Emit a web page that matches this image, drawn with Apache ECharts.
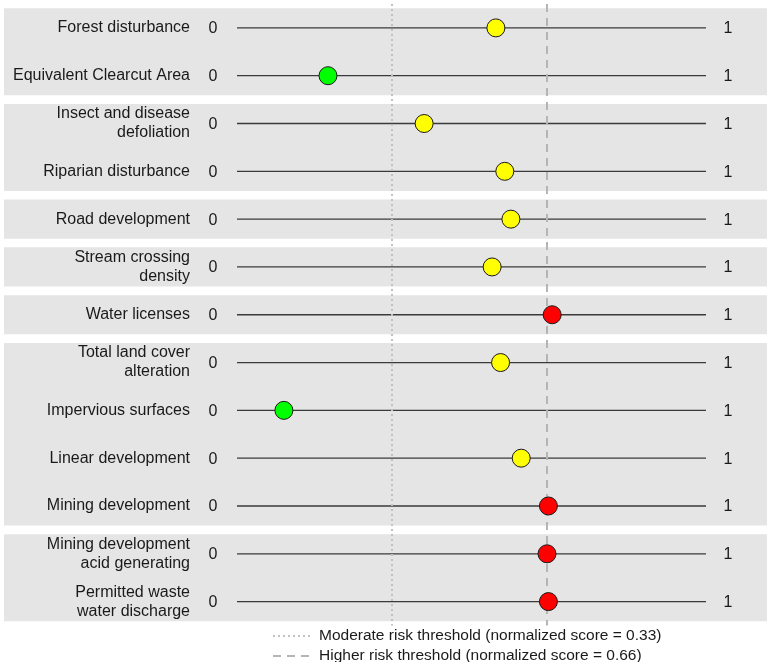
<!DOCTYPE html>
<html>
<head>
<meta charset="utf-8">
<script src="https://cdn.jsdelivr.net/npm/echarts@6/dist/echarts.min.js"></script>
<style>html,body{margin:0;padding:0;background:#fff;}#c{width:767px;height:662px;}</style>
</head>
<body>
<div id="c"></div>
<script>
const categories = [
  'Forest disturbance',
  'Equivalent Clearcut Area',
  'Insect and disease\ndefoliation',
  'Riparian disturbance',
  'Road development',
  'Stream crossing\ndensity',
  'Water licenses',
  'Total land cover\nalteration',
  'Impervious surfaces',
  'Linear development',
  'Mining development',
  'Mining development\nacid generating',
  'Permitted waste\nwater discharge'
];
const scores = [0.552, 0.194, 0.399, 0.571, 0.584, 0.544, 0.672, 0.562, 0.100, 0.606, 0.664, 0.661, 0.664];
// groups of rows sharing a grey band: [first row index, last row index]
const groups = [[0, 1], [2, 3], [4, 4], [5, 5], [6, 6], [7, 10], [11, 12]];
const moderateThreshold = 0.33;
const higherThreshold = 0.66;
const moderateName = 'Moderate risk threshold (normalized score = 0.33)';
const higherName = 'Higher risk threshold (normalized score = 0.66)';

const txt = '#1a1a1a';
const fontFam = 'Liberation Sans, Arial, sans-serif';

function riskColor(v) {
  if (v < moderateThreshold) return '#00ff00';
  if (v < higherThreshold) return '#ffff00';
  return '#ff0000';
}

const chart = echarts.init(document.getElementById('c'));
chart.setOption({
  animation: false,
  backgroundColor: '#ffffff',
  textStyle: { fontFamily: fontFam },
  grid: { left: 237, right: 61, top: 4, bottom: 36.5 },
  xAxis: { type: 'value', min: 0, max: 1, show: false },
  yAxis: {
    type: 'category', data: categories, inverse: true,
    axisLine: { show: false }, axisTick: { show: false }, splitLine: { show: false },
    axisLabel: { margin: 47, fontSize: 16, color: txt, lineHeight: 19, fontFamily: fontFam }
  },
  legend: {
    orient: 'vertical', left: 272, top: 628, height: 60, width: 480, padding: 0,
    itemWidth: 38, itemHeight: 14, itemGap: 4,
    itemStyle: { color: 'rgba(0,0,0,0)', borderWidth: 0 },
    textStyle: { fontSize: 15.5, lineHeight: 16, color: txt, fontFamily: fontFam, padding: [0, 0, 0, 3] },
    data: [moderateName, higherName]
  },
  series: [
    {
      type: 'custom', name: 'bands', z: 0, silent: true, clip: false,
      data: groups,
      encode: { x: -1, y: [0, 1] },
      renderItem: function (params, api) {
        const a = api.coord([0, api.value(0)]);
        const b = api.coord([0, api.value(1)]);
        const h = api.size([0, 1])[1];
        const top = a[1] - h * 0.41;
        const bot = b[1] + h * 0.41;
        return { type: 'rect', shape: { x: 4, y: top, width: api.getWidth() - 4, height: bot - top }, style: { fill: '#e5e5e5' } };
      }
    },
    {
      type: 'custom', name: 'rows', z: 2, silent: true, clip: false,
      data: categories.map((c, i) => [0, 1, i]),
      encode: { x: [0, 1], y: 2 },
      renderItem: function (params, api) {
        const p0 = api.coord([api.value(0), api.value(2)]);
        const p1 = api.coord([api.value(1), api.value(2)]);
        const f = '16px ' + fontFam;
        return { type: 'group', children: [
          { type: 'line', shape: { x1: p0[0], y1: p0[1], x2: p1[0], y2: p1[1] }, style: { stroke: '#3a3a3a', lineWidth: 1.3 } },
          { type: 'text', x: p0[0] - 24, y: p0[1] + 1, style: { text: '0', font: f, fill: txt, textAlign: 'center', textVerticalAlign: 'middle' } },
          { type: 'text', x: p1[0] + 22, y: p1[1] + 1, style: { text: '1', font: f, fill: txt, textAlign: 'center', textVerticalAlign: 'middle' } }
        ] };
      }
    },
    {
      type: 'line', name: moderateName, data: [], symbol: 'none', showSymbol: false, z: 1,
      lineStyle: { type: [2, 3], color: '#c2c2c2', width: 2 },
      itemStyle: { color: 'rgba(0,0,0,0)' },
      markLine: { silent: true, symbol: 'none', label: { show: false },
        lineStyle: { type: [2, 3], color: '#c2c2c2', width: 2 },
        data: [{ xAxis: moderateThreshold }] }
    },
    {
      type: 'line', name: higherName, data: [], symbol: 'none', showSymbol: false, z: 1,
      lineStyle: { type: [8, 6], color: '#b5b5b5', width: 2 },
      itemStyle: { color: 'rgba(0,0,0,0)' },
      markLine: { silent: true, symbol: 'none', label: { show: false },
        lineStyle: { type: [8, 6], color: '#b5b5b5', width: 2 },
        data: [{ xAxis: higherThreshold }] }
    },
    {
      type: 'scatter', name: 'scores', z: 5, symbolSize: 18,
      data: scores.map((v, i) => [v, i]),
      itemStyle: { color: p => riskColor(p.value[0]), borderColor: '#1a1a1a', borderWidth: 1, opacity: 1 }
    }
  ]
});
</script>
</body>
</html>
